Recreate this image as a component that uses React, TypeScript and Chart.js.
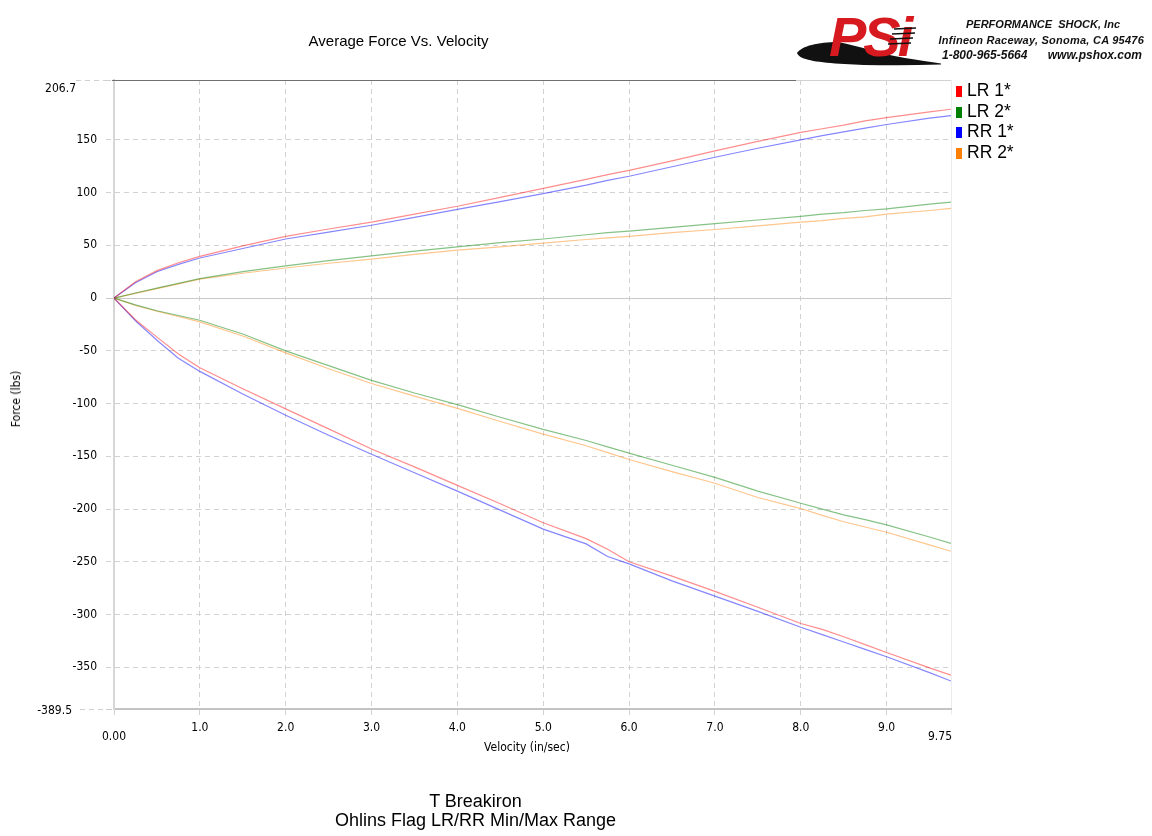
import React, { useEffect, useRef } from 'react';
import { Chart, registerables } from 'chart.js';

Chart.register(...registerables);

// ---------- data ----------
const VELOCITY = [0, 0.25, 0.5, 0.75, 1, 1.5, 2, 2.5, 3, 3.5, 4, 4.5, 5, 5.5, 5.75, 6, 6.5, 7, 7.5, 8, 8.25, 8.5, 8.75, 9, 9.5, 9.75];

const LR1_REBOUND = [0, 15.5, 26, 33.5, 39.5, 49.5, 58.5, 65.5, 72, 79.5, 87, 95.5, 104, 112.5, 117, 121, 130, 139.5, 148.5, 157, 160.5, 164, 168, 171, 176.5, 179];
const LR1_COMPRESSION = [0, -20.5, -37, -53, -66, -86, -105, -124, -143, -160, -177.5, -195, -213, -228, -238, -250, -263.5, -278, -293, -308.5, -314, -321, -328.5, -336, -350.5, -357.5];

const LR2_REBOUND = [0, 4.8, 9.5, 14, 18.5, 25, 30.5, 35.5, 40, 44.5, 48.5, 52.5, 56, 60, 62, 63.5, 67, 70.5, 74, 77.5, 79.5, 81, 83, 84.5, 89, 91];
const LR2_COMPRESSION = [0, -6.5, -12, -16.5, -21, -34, -50, -64, -78, -90, -101, -113, -124.5, -135, -141, -147, -158.5, -170, -183, -194.5, -200, -205.5, -210, -215, -226.5, -232.5];

const RR1_REBOUND = [0, 14.5, 25, 32, 38, 47, 56, 62.5, 69, 76.5, 84, 91.5, 99, 107, 111.5, 115.5, 124.5, 133.5, 142, 150, 154, 157.5, 161, 164.5, 170.5, 173];
const RR1_COMPRESSION = [0, -21.5, -40, -57, -69.5, -91, -111, -130, -148, -165.5, -183, -201, -219, -233, -245, -252, -268, -282.5, -297, -312, -319, -326, -333, -340, -355, -363];

const RR2_REBOUND = [0, 4.5, 9, 13.5, 18, 23.5, 28.5, 33, 37, 41.5, 45.5, 48.5, 52, 55.5, 57, 58.5, 62, 65, 68.5, 72, 73.5, 75.5, 77, 79.5, 83, 85];
const RR2_COMPRESSION = [0, -7, -12.5, -17.5, -22.5, -36, -52, -67, -81, -93, -104.5, -117, -129, -140, -146.5, -153, -164.5, -175.5, -189, -199.5, -206, -212, -217, -222, -234, -240];

const SERIES_NAMES = ['LR 1*', 'LR 2*', 'RR 1*', 'RR 2*'];
const SERIES_COLORS = ['#ff0000', '#008000', '#0000ff', '#ff8000'];
const SERIES_LINE_COLORS = ['rgba(255,0,0,0.45)', 'rgba(0,128,0,0.48)', 'rgba(0,0,255,0.48)', 'rgba(255,128,0,0.45)'];

const X_MIN = 0;
const X_MAX = 9.75;
const Y_MIN = -389.5;
const Y_MAX = 206.7;
const X_TICKS = [0, 1, 2, 3, 4, 5, 6, 7, 8, 9, 9.75];
const Y_TICKS = [-389.5, -350, -300, -250, -200, -150, -100, -50, 0, 50, 100, 150, 206.7];

const TICK_FAMILY = "'DejaVu Sans Condensed', 'DejaVu Sans', sans-serif";
const ARIAL = "'Liberation Sans', Arial, sans-serif";

function branches(rebound: number[], compression: number[]) {
  const up = VELOCITY.map((v, i) => ({ x: v, y: rebound[i] }));
  const down = VELOCITY.map((v, i) => ({ x: v, y: compression[i] }));
  return [...up, { x: X_MAX, y: null as any }, ...down];
}

const SERIES_DATA = [
  branches(LR1_REBOUND, LR1_COMPRESSION),
  branches(LR2_REBOUND, LR2_COMPRESSION),
  branches(RR1_REBOUND, RR1_COMPRESSION),
  branches(RR2_REBOUND, RR2_COMPRESSION),
];

const extrasPlugin = {
  id: 'extras',
  afterDraw(chart: any) {
    const { ctx, chartArea, scales } = chart;
    const x = scales.x;
    const y = scales.y;
    const yTop = Math.round(y.getPixelForValue(Y_MAX)) + 0.5;
    const yBot = Math.round(y.getPixelForValue(Y_MIN)) + 0.5;
    ctx.save();
    // dashed leader lines for end ticks
    ctx.strokeStyle = '#cfcfcf';
    ctx.lineWidth = 1;
    ctx.setLineDash([5, 4]);
    ctx.beginPath();
    ctx.moveTo(76, yTop);
    ctx.lineTo(chartArea.left, yTop);
    ctx.moveTo(80, yBot);
    ctx.lineTo(chartArea.left, yBot);
    ctx.stroke();
    // top dark rule
    ctx.setLineDash([]);
    ctx.strokeStyle = '#707070';
    ctx.beginPath();
    ctx.moveTo(chartArea.left - 2, yTop);
    ctx.lineTo(796, yTop);
    ctx.stroke();
    // end labels
    ctx.fillStyle = '#000';
    ctx.font = `12px ${TICK_FAMILY}`;
    ctx.textBaseline = 'middle';
    ctx.textAlign = 'right';
    ctx.fillText(String(Y_MAX), 76, yTop + 8.5);
    ctx.fillText(String(Y_MIN), 72, yBot + 1.5);
    ctx.textAlign = 'center';
    ctx.fillText(X_MIN.toFixed(2), x.getPixelForValue(X_MIN), 737);
    ctx.textAlign = 'right';
    ctx.fillText(X_MAX.toFixed(2), x.getPixelForValue(X_MAX) + 1, 737);
    ctx.restore();
  },
};

function ChartCanvas() {
  const ref = useRef<HTMLCanvasElement | null>(null);
  useEffect(() => {
    if (!ref.current) return;
    const font = { family: TICK_FAMILY, size: 12 };
    const chart = new Chart(ref.current, {
      type: 'line',
      data: {
        datasets: SERIES_NAMES.map((name, i) => ({
          label: name,
          data: SERIES_DATA[i],
          borderColor: SERIES_LINE_COLORS[i],
          backgroundColor: SERIES_COLORS[i],
          borderWidth: 1.2,
          pointRadius: 0,
          tension: 0,
          spanGaps: false,
          fill: false,
        })),
      },
      options: {
        responsive: false,
        animation: false,
        layout: { padding: { left: 0, right: 201, top: 80, bottom: 0 } },
        plugins: {
          legend: { display: false },
          title: { display: false },
          tooltip: { enabled: false },
        },
        scales: {
          x: {
            type: 'linear',
            min: X_MIN,
            max: X_MAX,
            afterBuildTicks: (s: any) => {
              s.ticks = X_TICKS.map((v) => ({ value: v }));
            },
            afterFit: (s: any) => {
              s.height = 127;
            },
            ticks: {
              autoSkip: false,
              maxRotation: 0,
              minRotation: 0,
              padding: 4,
              color: '#000',
              font,
              callback: (v: any) => (v === X_MIN || v === X_MAX ? '' : Number(v).toFixed(1)),
            },
            grid: {
              color: (c: any) => (c.tick && c.tick.value === X_MAX ? '#ececec' : '#d2d2d2'),
              lineWidth: 1,
              tickLength: 8,
              tickBorderDash: [5, 4],
            },
            border: {
              display: true,
              color: '#c4c4c4',
              width: 2,
              dash: (c: any) => (c.tick && c.tick.value === X_MAX ? [] : [5, 4]),
            },
          },
          y: {
            type: 'linear',
            min: Y_MIN,
            max: Y_MAX,
            afterBuildTicks: (s: any) => {
              s.ticks = Y_TICKS.map((v) => ({ value: v }));
            },
            afterFit: (s: any) => {
              s.width = 114;
            },
            ticks: {
              autoSkip: false,
              padding: 9,
              color: '#000',
              font,
              callback: (v: any) => (v === Y_MIN || v === Y_MAX ? '' : String(v)),
            },
            grid: {
              color: (c: any) => (c.tick && c.tick.value === 0 ? '#c8c8c8' : '#d2d2d2'),
              lineWidth: 1,
              tickLength: 8,
              tickBorderDash: (c: any) => (c.tick && c.tick.value === 0 ? [] : [5, 4]),
            },
            border: {
              display: true,
              color: '#d6d6d6',
              width: 2,
              dash: (c: any) => (c.tick && (c.tick.value === 0 || c.tick.value === Y_MAX) ? [] : [5, 4]),
            },
          },
        },
      },
      plugins: [extrasPlugin],
    } as any);
    return () => chart.destroy();
  }, []);
  return <canvas ref={ref} width={1152} height={836} style={{ position: 'absolute', left: 0, top: 0, display: 'block' }} />;
}

function Logo() {
  return (
    <svg width={160} height={70} viewBox="790 0 160 70" style={{ position: 'absolute', left: 790, top: 0 }}>
      <path d="M 797 53 C 802 46, 818 42, 838 42 C 860 46, 880 54, 905 58 Q 925 61, 941 63.6 L 941 64.6 Q 880 66.5, 835 63.5 C 812 61.5, 799 59, 797 53 Z" fill="#111" />
      <text x={829} y={55.5} fontFamily={ARIAL} fontWeight="bold" fontStyle="italic" fontSize={56} letterSpacing={-3} fill="#d71920">PSi</text>
      <g stroke="#111" strokeWidth={1.5}>
        <line x1={894} y1={29} x2={916} y2={28} />
        <line x1={892} y1={34} x2={915} y2={33} />
        <line x1={890} y1={39} x2={913} y2={38} />
        <line x1={888} y1={44} x2={911} y2={43} />
      </g>
    </svg>
  );
}

const abs = (style: React.CSSProperties): React.CSSProperties => ({ position: 'absolute', whiteSpace: 'nowrap', margin: 0, ...style });

export default function App() {
  const companyFont: React.CSSProperties = {
    fontFamily: ARIAL,
    fontWeight: 'bold',
    fontStyle: 'italic',
    fontSize: 11,
    lineHeight: '14px',
    color: '#111',
  };
  return (
    <div style={{ position: 'absolute', left: 0, top: 0, width: 1152, height: 836, background: '#fff', overflow: 'hidden' }}>
      <ChartCanvas />
      <div style={abs({ left: 398.5, top: 32, transform: 'translateX(-50%)', fontFamily: ARIAL, fontSize: 15, lineHeight: '18px', color: '#000' })}>
        Average Force Vs. Velocity
      </div>
      <Logo />
      <div style={abs({ ...companyFont, right: 32, top: 17 })}>PERFORMANCE&nbsp; SHOCK, Inc</div>
      <div style={abs({ ...companyFont, right: 8, top: 33, letterSpacing: '0.24px' })}>Infineon Raceway, Sonoma, CA 95476</div>
      <div style={abs({ ...companyFont, fontSize: 12, left: 942, top: 48 })}>1-800-965-5664</div>
      <div style={abs({ ...companyFont, fontSize: 12, right: 10, top: 48 })}>www.pshox.com</div>
      {SERIES_NAMES.map((name, i) => (
        <div key={name} style={abs({ left: 956, top: 80 + i * 20.7, height: 20, fontFamily: ARIAL, fontSize: 17.5, lineHeight: '20px', color: '#000' })}>
          <span style={{ position: 'absolute', left: 0, top: 6, width: 6, height: 11, background: SERIES_COLORS[i] }} />
          <span style={{ position: 'absolute', left: 11, top: 0 }}>{name}</span>
        </div>
      ))}
      <div style={abs({ left: 16, top: 399, transform: 'translate(-50%, -50%) rotate(-90deg)', fontFamily: TICK_FAMILY, fontSize: 12, lineHeight: '14px', color: '#000' })}>
        Force (lbs)
      </div>
      <div style={abs({ left: 527, top: 740, transform: 'translateX(-50%)', fontFamily: TICK_FAMILY, fontSize: 12, lineHeight: '14px', color: '#000' })}>
        Velocity (in/sec)
      </div>
      <div style={abs({ left: 475.5, top: 792, transform: 'translateX(-50%)', fontFamily: ARIAL, fontSize: 18, lineHeight: '18.5px', color: '#000', textAlign: 'center' })}>
        T Breakiron
        <br />
        Ohlins Flag LR/RR Min/Max Range
      </div>
    </div>
  );
}
